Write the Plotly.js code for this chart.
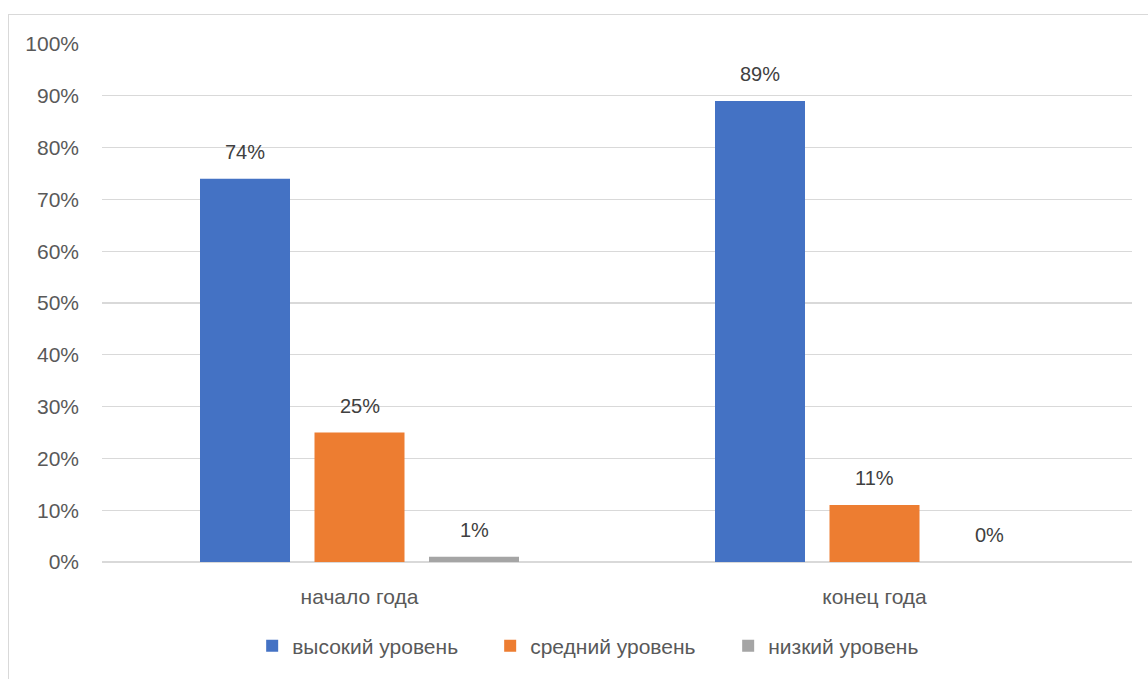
<!DOCTYPE html>
<html>
<head>
<meta charset="utf-8">
<script src="https://cdn.plot.ly/plotly-3.0.1.min.js"></script>
<style>
  html, body { margin: 0; padding: 0; background: #ffffff; }
  #chart { position: absolute; left: 0; top: 0; width: 1148px; height: 679px; }
  #frame { position: absolute; left: 8px; top: 14px; width: 1200px; height: 700px;
           border: 1px solid #d9d9d9; pointer-events: none; }
</style>
</head>
<body>
<div id="chart"></div>
<div id="frame"></div>
<script>
const categories = ["начало года", "конец года"];
const seriesNames = ["высокий уровень", "средний уровень", "низкий уровень"];
const highLevel = [0.74, 0.89];
const midLevel = [0.25, 0.11];
const lowLevel = [0.01, 0.00];
const seriesValues = [highLevel, midLevel, lowLevel];
const seriesColors = ["#4472C4", "#ED7D31", "#A5A5A5"];

const FONT = "Liberation Sans, Arial, sans-serif";
const bargap = 0.333;
const bargroupgap = 0.214;

const traces = seriesValues.map((vals, i) => ({
  type: "bar",
  name: seriesNames[i],
  x: categories,
  y: vals,
  marker: { color: seriesColors[i] },
  hoverinfo: "skip"
}));

// data labels above each bar
const nS = seriesValues.length;
const slot = (1 - bargap) / nS;
const annotations = [];
seriesValues.forEach((vals, i) => {
  vals.forEach((v, j) => {
    annotations.push({
      x: j + (i - (nS - 1) / 2) * slot,
      y: v,
      xref: "x", yref: "y",
      text: Math.round(v * 100) + "%",
      showarrow: false,
      yanchor: "bottom",
      yshift: 14,
      font: { family: FONT, size: 20, color: "#404040" }
    });
  });
});

const layout = {
  width: 1148, height: 679,
  margin: { l: 102, r: 16, t: 44, b: 115, pad: 0 },
  paper_bgcolor: "rgba(0,0,0,0)",
  plot_bgcolor: "rgba(0,0,0,0)",
  barmode: "group",
  bargap: bargap,
  bargroupgap: bargroupgap,
  font: { family: FONT, size: 21, color: "#595959" },
  xaxis: {
    type: "category",
    showgrid: false, zeroline: false, showline: false,
    ticks: "",
    ticklabelstandoff: 20,
    tickfont: { family: FONT, size: 21, color: "#595959" }
  },
  yaxis: {
    range: [0, 1],
    dtick: 0.1,
    tickformat: ".0%",
    showgrid: true, gridcolor: "#d9d9d9", gridwidth: 1.3,
    zeroline: true, zerolinecolor: "#d9d9d9", zerolinewidth: 1.3,
    showline: false, ticks: "",
    ticklabelstandoff: 22,
    tickfont: { family: FONT, size: 21, color: "#595959" }
  },
  showlegend: true,
  legend: {
    orientation: "h",
    x: 0.4924, xanchor: "center",
    y: -0.1625, yanchor: "middle",
    entrywidth: 193, entrywidthmode: "pixels",
    font: { family: FONT, size: 21, color: "#595959" },
    itemclick: false, itemdoubleclick: false,
    traceorder: "normal"
  },
  annotations: annotations
};

Plotly.newPlot("chart", traces, layout, { displayModeBar: false, staticPlot: true });
</script>
</body>
</html>
